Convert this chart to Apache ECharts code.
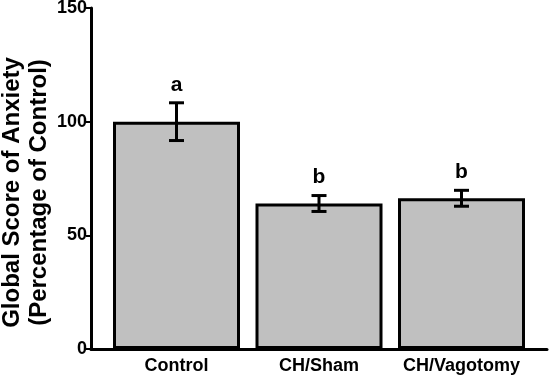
<!DOCTYPE html>
<html>
<head>
<meta charset="utf-8">
<script src="https://cdn.jsdelivr.net/npm/echarts@6/dist/echarts.min.js"></script>
<style>html,body{margin:0;padding:0;background:#fff}#c{width:550px;height:377px}</style>
</head>
<body>
<div id="c"></div>
<script>
const categories = ['Control', 'CH/Sham', 'CH/Vagotomy'];
const means = [100, 64, 66.3];
const errors = [8.3, 3.5, 3.5];
const letters = ['a', 'b', 'b'];
const yTicks = [0, 50, 100, 150];

const FONT = 'Liberation Sans, Arial, sans-serif';
const chart = echarts.init(document.getElementById('c'));
const barData = means.map((v, i) => [i, v]);
const errData = means.map((v, i) => [i, v - errors[i], v + errors[i], i]);

chart.setOption({
  animation: false,
  grid: { left: 91, right: 3, top: 8, bottom: 28, containLabel: false, outerBoundsMode: 'none' },
  xAxis: {
    type: 'value',
    min: -0.6,
    max: 2.6,
    splitLine: { show: false },
    axisLine: { show: true, onZero: false, lineStyle: { color: '#000', width: 3 } },
    axisTick: { show: false },
    axisLabel: {
      customValues: categories.map((c, i) => i),
      formatter: v => categories[Math.round(v)],
      color: '#000', fontFamily: FONT, fontWeight: 'bold', fontSize: 18, margin: 8
    }
  },
  yAxis: {
    type: 'value',
    min: 0, max: 150, interval: 50,
    splitLine: { show: false },
    axisLine: { show: true, onZero: false, lineStyle: { color: '#000', width: 3 } },
    axisTick: { show: true, length: 5, lineStyle: { color: '#000', width: 2 } },
    axisLabel: {
      customValues: yTicks,
      color: '#000', fontFamily: FONT, fontWeight: 'bold', fontSize: 18, margin: 4
    },
    name: 'Global Score of Anxiety\n(Percentage of Control)',
    nameLocation: 'middle',
    nameRotate: 90,
    nameGap: 38,
    nameMoveOverlap: false,
    nameTextStyle: {
      color: '#000', fontFamily: FONT, fontWeight: 'bold', fontSize: 24, lineHeight: 27,
      padding: [0, 28, 0, 0]
    }
  },
  series: [
    {
      type: 'bar',
      data: barData,
      barWidth: 127,
      itemStyle: { color: '#c0c0c0', borderColor: '#000', borderWidth: 3 }
    },
    {
      type: 'custom',
      data: errData,
      z: 5,
      clip: false,
      renderItem: function (params, api) {
        const x = api.value(0);
        const lo = api.coord([x, api.value(1)]);
        const hi = api.coord([x, api.value(2)]);
        const hw = 7.5;
        const st = { stroke: '#000', lineWidth: 3 };
        return {
          type: 'group',
          children: [
            { type: 'line', shape: { x1: lo[0], y1: lo[1], x2: hi[0], y2: hi[1] }, style: st },
            { type: 'line', shape: { x1: lo[0] - hw, y1: lo[1], x2: lo[0] + hw, y2: lo[1] }, style: st },
            { type: 'line', shape: { x1: hi[0] - hw, y1: hi[1], x2: hi[0] + hw, y2: hi[1] }, style: st },
            { type: 'text', style: {
                text: letters[api.value(3)], x: hi[0], y: hi[1] - 18,
                align: 'center', verticalAlign: 'middle',
                fill: '#000', font: 'bold 21px ' + FONT
              } }
          ]
        };
      }
    }
  ]
});
</script>
</body>
</html>
